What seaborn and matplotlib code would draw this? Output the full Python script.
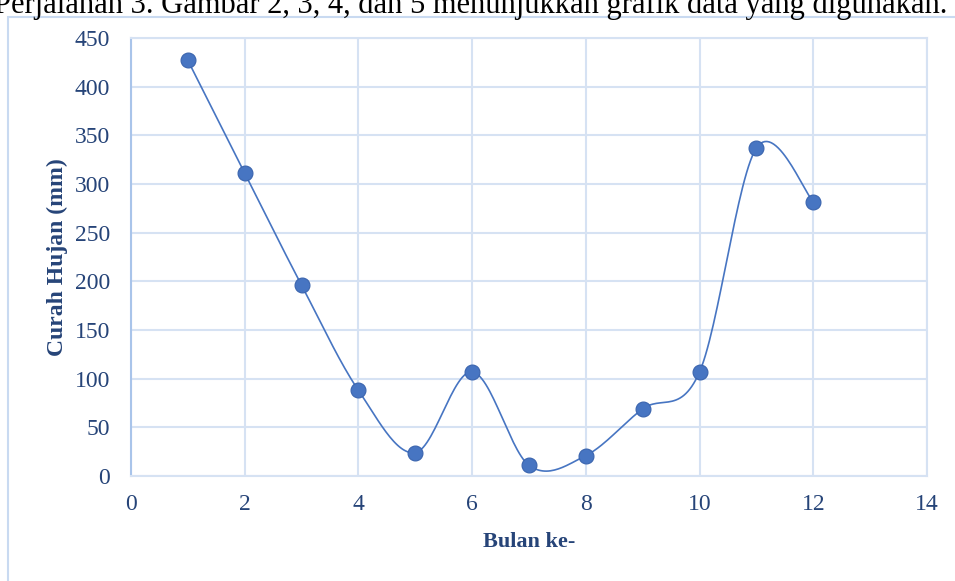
import numpy as np
import pandas as pd
import matplotlib.pyplot as plt
import seaborn as sns
from matplotlib.patches import Rectangle

# data
bulan = [1, 2, 3, 4, 5, 6, 7, 8, 9, 10, 11, 12]
curah_hujan = [427, 311, 196, 88, 24, 107, 11, 21, 69, 107, 337, 282]

x_ticks = [0, 2, 4, 6, 8, 10, 12, 14]
y_ticks = [0, 50, 100, 150, 200, 250, 300, 350, 400, 450]

caption = 'Perjalanan 3. Gambar 2, 3, 4, dan 5 menunjukkan grafik data yang digunakan.'

TXT = '#264478'
GRID = '#D6E2F3'
BLUE = '#4775C2'


def smooth_line(x, y, steps=30):
    '''
    Catmull-Rom curve through the points, like the "smoothed line" option in Excel
    '''
    x = np.asarray(x, float)
    y = np.asarray(y, float)
    px = np.concatenate([[x[0]], x, [x[-1]]])
    py = np.concatenate([[y[0]], y, [y[-1]]])
    xs, ys = [], []
    for i in range(1, len(px) - 2):
        p0, p1, p2, p3 = [np.array([px[j], py[j]]) for j in (i - 1, i, i + 1, i + 2)]
        c1 = p1 + (p2 - p0) / 6
        c2 = p2 - (p3 - p1) / 6
        t = np.linspace(0, 1, steps)[:, None]
        pts = ((1 - t) ** 3) * p1 + 3 * ((1 - t) ** 2) * t * c1 + 3 * (1 - t) * t ** 2 * c2 + t ** 3 * p2
        xs.extend(pts[:, 0])
        ys.extend(pts[:, 1])
    return pd.DataFrame({'x': xs, 'y': ys})


df = pd.DataFrame({'bulan': bulan, 'curah': curah_hujan})
curve = smooth_line(bulan, curah_hujan)

sns.set_theme(style='white')
plt.rcParams['font.family'] = ['Liberation Serif', 'DejaVu Serif']

fig = plt.figure(figsize=(9.55, 5.81), dpi=100)
ax = fig.add_axes([131 / 955, 1 - 476 / 581, (927 - 131) / 955, (476 - 38) / 581])

sns.lineplot(data=curve, x='x', y='y', ax=ax, color=BLUE, linewidth=1.2, sort=False, zorder=3)
sns.scatterplot(data=df, x='bulan', y='curah', ax=ax, s=115, color=BLUE,
                edgecolor='#3A64AE', linewidth=0.8, zorder=4)

ax.set_xlim(0, 14)
ax.set_ylim(0, 450)
ax.set_xticks(x_ticks)
ax.set_yticks(y_ticks)
ax.grid(True, color=GRID, linewidth=1.5)
ax.set_axisbelow(True)
for side in ['top', 'right', 'bottom']:
    ax.spines[side].set_color(GRID)
    ax.spines[side].set_linewidth(1.5)
ax.spines['left'].set_color('#A9C4EA')
ax.spines['left'].set_linewidth(1.5)
ax.tick_params(axis='both', length=0, labelsize=17, labelcolor=TXT)
ax.tick_params(axis='x', pad=13)
ax.tick_params(axis='y', pad=15)
ax.set_xlabel('Bulan ke-', fontsize=16, fontweight='bold', color=TXT, labelpad=12)
ax.set_ylabel('Curah Hujan (mm)', fontsize=17, fontweight='bold', color=TXT, labelpad=5)

# outer chart frame and the caption line above it, clipped at the top as in the scan
fig.patches.append(Rectangle((8 / 955, -0.05), 1.0, 1 - 17 / 581 + 0.05, transform=fig.transFigure,
                             fill=False, edgecolor='#C9DAF1', linewidth=1.5))
fig.text(-0.006, 1 - 13 / 581, caption, fontsize=22, color='black', ha='left', va='baseline')

fig.savefig('out.png', dpi=100)
